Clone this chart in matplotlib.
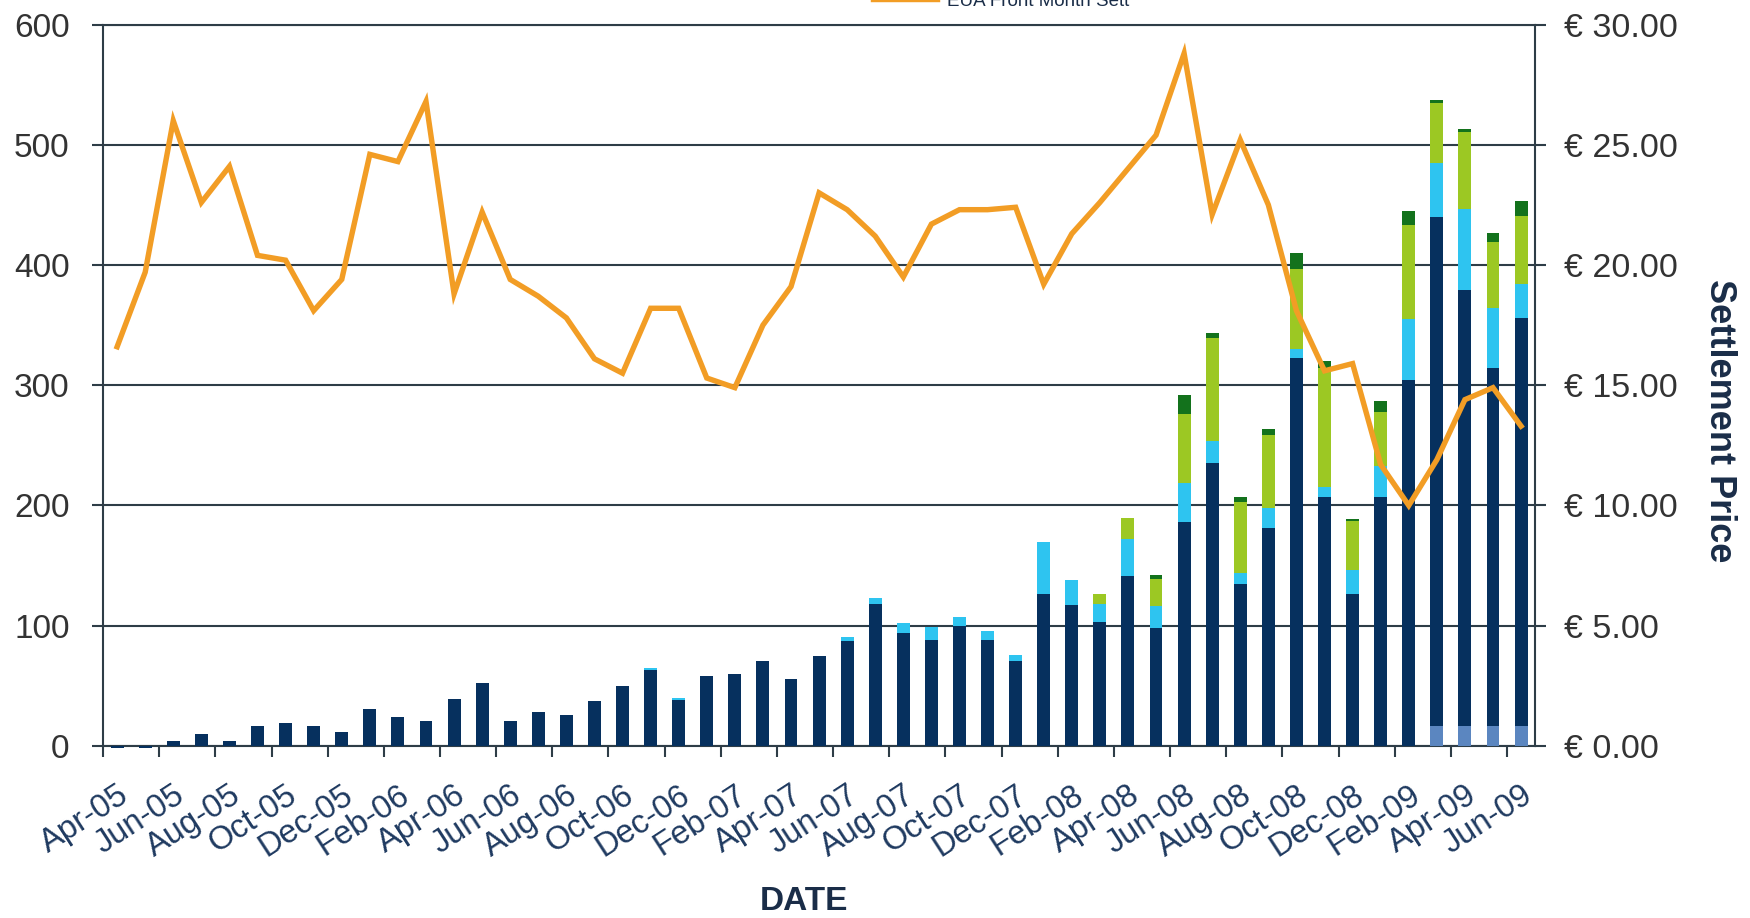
import numpy as np
import matplotlib
matplotlib.use("Agg")
import matplotlib.pyplot as plt

plt.rcParams['font.family'] = ['Liberation Sans', 'DejaVu Sans']

months = [
    "Apr-05", "May-05", "Jun-05", "Jul-05", "Aug-05", "Sep-05", "Oct-05", "Nov-05", "Dec-05",
    "Jan-06", "Feb-06", "Mar-06", "Apr-06", "May-06", "Jun-06", "Jul-06", "Aug-06", "Sep-06",
    "Oct-06", "Nov-06", "Dec-06", "Jan-07", "Feb-07", "Mar-07", "Apr-07", "May-07", "Jun-07",
    "Jul-07", "Aug-07", "Sep-07", "Oct-07", "Nov-07", "Dec-07", "Jan-08", "Feb-08", "Mar-08",
    "Apr-08", "May-08", "Jun-08", "Jul-08", "Aug-08", "Sep-08", "Oct-08", "Nov-08", "Dec-08",
    "Jan-09", "Feb-09", "Mar-09", "Apr-09", "May-09", "Jun-09",
]

# volume segments, stacked bottom to top
base_vol = [0] * 47 + [17, 17, 17, 17]
navy_vol = [-2, -2, 4, 10, 4, 17, 19, 17, 12, 31, 24, 21, 39, 52, 21, 28, 26, 37, 50, 63,
            38, 58, 60, 71, 56, 75, 87, 118, 94, 88, 100, 88, 71, 126, 117, 103, 141, 98,
            186, 235, 135, 181, 323, 207, 126, 207, 304, 423, 362, 297, 339]
cyan_vol = [0] * 19 + [1.5, 1.5, 0, 0, 0, 0, 0, 3.5, 5, 8, 11, 7, 8, 5, 44, 21, 15, 31, 18,
            33, 19, 8.5, 16.5, 7.5, 8.5, 20, 25.5, 51, 44.5, 67.5, 50.5, 28.5]
lime_vol = [0] * 35 + [8, 17.5, 23, 57, 85.5, 59.5, 61.5, 66.5, 98.5, 41, 45.5, 78, 50, 64,
                       54.5, 56.5]
green_vol = [0] * 37 + [3, 16, 4, 4, 5, 13, 6, 1.5, 9, 12, 3, 3, 8, 12]

# EUA front-month settlement price (EUR)
price = [16.6, 19.7, 26.0, 22.6, 24.1, 20.4, 20.2, 18.1, 19.4, 24.6, 24.3, 26.8, 18.8,
         22.2, 19.4, 18.7, 17.8, 16.1, 15.5, 18.2, 18.2, 15.3, 14.9, 17.5, 19.1, 23.0,
         22.3, 21.2, 19.5, 21.7, 22.3, 22.3, 22.4, 19.2, 21.3, 22.6, 24.0, 25.4, 28.8,
         22.1, 25.2, 22.5, 18.1, 15.6, 15.9, 11.7, 10.0, 11.9, 14.4, 14.9, 13.3]

segments = [
    (base_vol, "#5b86c0"),
    (navy_vol, "#06305e"),
    (cyan_vol, "#2ec4f0"),
    (lime_vol, "#9cc823"),
    (green_vol, "#13721c"),
]

grid_col = "#2e3d47"
tick_col = "#333333"
date_col = "#1f3a60"
title_col = "#1a2d48"

fig = plt.figure(figsize=(17.5, 9.18), dpi=100)
ax = fig.add_axes([0.0589, 0.1874, 0.8183, 0.7859])

x = np.arange(len(months))
bottom = np.zeros(len(months))
for vals, col in segments:
    v = np.array(vals, dtype=float)
    ax.bar(x, v, width=0.46, bottom=bottom, color=col, linewidth=0, zorder=2,
           clip_on=False)
    bottom = bottom + np.clip(v, 0, None)

ax.set_xlim(-0.5, len(months) - 0.5)
ax.set_ylim(0, 600)
ax.set_yticks(np.arange(0, 601, 100))
ax.set_axisbelow(True)
ax.yaxis.grid(True, color=grid_col, linewidth=1.5)
ax.xaxis.grid(False)

for side in ("left", "bottom", "right", "top"):
    ax.spines[side].set_color(grid_col)
    ax.spines[side].set_linewidth(1.5)
    ax.spines[side].set_zorder(1)

ax.set_xticks(x[::2])
ax.set_xticklabels(months[::2], rotation=33, ha="right", va="top",
                   rotation_mode="anchor", fontsize=23.5, color=date_col)
ax.set_xticks(np.arange(-0.5, len(months) - 1, 2), minor=True)
ax.tick_params(axis="x", which="major", length=0, pad=24)
ax.tick_params(axis="x", which="minor", length=8, width=1.5, color=grid_col, direction="out")
ax.tick_params(axis="y", which="major", length=8, width=1.5, color=grid_col,
               direction="out", labelsize=24, labelcolor=tick_col, pad=16)

ax2 = ax.twinx()
ax2.plot(x, price, color="#f29d25", linewidth=3.9, solid_joinstyle="miter",
         label="EUA Front Month Sett", zorder=3)
ax2.set_ylim(0, 30)
ax2.set_yticks(np.arange(0, 31, 5))
ax2.set_yticklabels([f"€ {v:.2f}" for v in np.arange(0, 31, 5)])
ax2.tick_params(axis="y", length=8, width=1.5, color=grid_col, direction="out",
                labelsize=24.5, labelcolor=tick_col, pad=13)
for side in ax2.spines:
    ax2.spines[side].set_visible(False)

fig.legend(handles=ax2.get_lines(), loc="center left",
           bbox_to_anchor=(873 / 1750, 1 - 1 / 918), frameon=False,
           fontsize=13.5, handlelength=3.4, handletextpad=0.55,
           borderpad=0, borderaxespad=0, labelcolor=title_col)

fig.text(804 / 1750, 1 - 901 / 918, "DATE", ha="center", va="center",
         fontsize=24, fontweight="bold", color=title_col)
fig.text(1719 / 1750, 1 - 421 / 918, "Settlement Price", ha="center", va="center",
         rotation=270, fontsize=26, fontweight="bold", color=title_col)

fig.savefig("out.png", dpi=100, facecolor="white")
